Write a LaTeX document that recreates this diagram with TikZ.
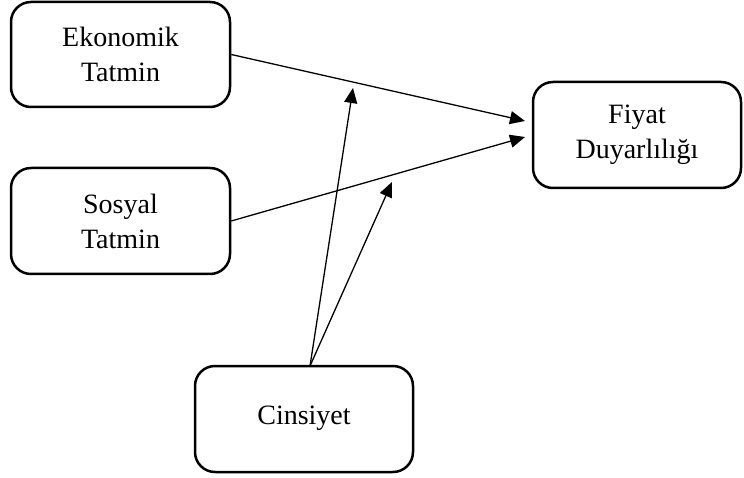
\documentclass[tikz,border=0pt]{standalone}
\usepackage{fontspec}
\setmainfont{Liberation Serif}
\usetikzlibrary{arrows.meta}
\begin{document}
\begin{tikzpicture}[x=1pt,y=-1pt,
  box/.style={draw, line width=2.5pt, rounded corners=20pt, align=center,
    font=\fontsize{28}{35}\selectfont, inner sep=0pt},
  arr/.style={line width=1.3pt, -{Triangle[length=15pt,width=13pt]}}]
\useasboundingbox (0,0) rectangle (744,478);
\node[box, minimum width=219pt, minimum height=105pt] (ek) at (120.5,54.5) {Ekonomik\\Tatmin};
\node[box, minimum width=219pt, minimum height=106pt] (so) at (120.5,221) {Sosyal\\Tatmin};
\node[box, minimum width=208pt, minimum height=106pt] (fy) at (637,135) {Fiyat\\Duyarlılığı};
\node[box, minimum width=218pt, minimum height=106pt] (cin) at (304,419) {\raisebox{7pt}{Cinsiyet}};
\coordinate (t1) at (525,121);
\coordinate (t2) at (525,137);
\coordinate (s0) at (310,366);
\coordinate (t3) at (353,88);
\coordinate (t4) at (392,182);
\draw[arr] (ek.east) -- (t1);
\draw[arr] (so.east) -- (t2);
\draw[arr] (s0) -- (t3);
\draw[arr] (s0) -- (t4);
\end{tikzpicture}
\end{document}
